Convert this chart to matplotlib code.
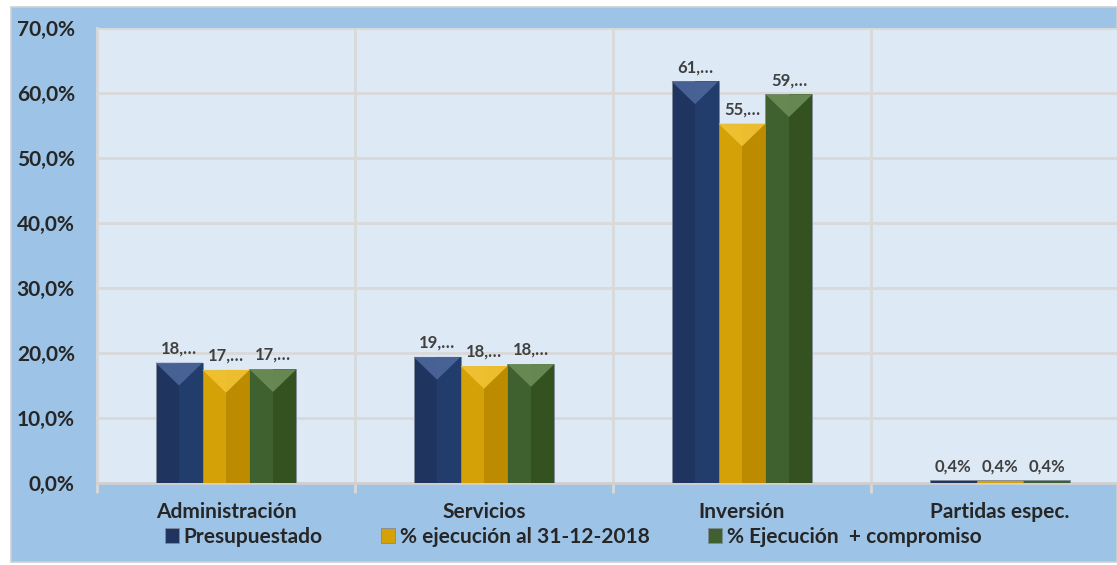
import numpy as np
import matplotlib.pyplot as plt
from matplotlib.patches import Rectangle, Polygon

categories = ['Administración', 'Servicios', 'Inversión', 'Partidas espec.']
series_names = ['Presupuestado', '% ejecución al 31-12-2018', '% Ejecución  + compromiso']
presupuestado = [18.5, 19.4, 61.8, 0.4]
ejecucion = [17.4, 18.0, 55.3, 0.4]
ejec_compromiso = [17.5, 18.3, 59.8, 0.4]
labels_pres = ['18,…', '19,…', '61,…', '0,4%']
labels_ejec = ['17,…', '18,…', '55,…', '0,4%']
labels_comp = ['17,…', '18,…', '59,…', '0,4%']
yticks = [0, 10, 20, 30, 40, 50, 60, 70]

# base colour, darker right half, lighter top bevel
styles = [('#1f3560', '#223d6c', '#4d679b'),
          ('#d4a106', '#bd8b00', '#f2c435'),
          ('#3f6130', '#34521f', '#6c8c58')]

plt.rcParams['font.family'] = ['Lato', 'DejaVu Sans']
plt.rcParams['font.weight'] = 'bold'

fig = plt.figure(figsize=(11.17, 5.65), dpi=100, facecolor='white')
W, H = 1117, 565
fig.patches.append(Rectangle((11 / W, 3 / H), 1 - 11 / W, 1 - 10 / H,
                             transform=fig.transFigure, facecolor='#9dc3e6',
                             edgecolor='#d0d0d0', linewidth=1.2, zorder=-10))

ax = fig.add_axes([97 / W, 82 / H, 1032 / W, 455 / H])
ax.set_facecolor('#dde9f5')

x = np.arange(len(categories))
w = 0.182
all_vals = [presupuestado, ejecucion, ejec_compromiso]
all_labels = [labels_pres, labels_ejec, labels_comp]
bev = 3.5  # bevel height in data units

for i, (vals, labs, (c_left, c_right, c_top)) in enumerate(zip(all_vals, all_labels, styles)):
    bars = ax.bar(x + (i - 1) * w, vals, w, color=c_left, edgecolor='#7f8a99',
                  linewidth=0.6, zorder=3, label=series_names[i])
    for b, lab in zip(bars, labs):
        bx, bw, bh = b.get_x(), b.get_width(), b.get_height()
        if bh > 2 * bev:
            ax.add_patch(Rectangle((bx + bw / 2, 0), bw / 2, bh, facecolor=c_right,
                                   edgecolor='none', zorder=3.5))
            ax.add_patch(Polygon([(bx, bh), (bx + bw, bh), (bx + bw / 2, bh - bev)],
                                 closed=True, facecolor=c_top, edgecolor='none',
                                 alpha=0.9, zorder=3.6))
        ax.annotate(lab, (bx + bw / 2, bh), xytext=(0, 4.5), textcoords='offset points',
                    ha='center', va='bottom', fontsize=12, fontweight='bold',
                    color='#404040', zorder=5)

ax.set_xlim(-0.5, 3.5)
ax.set_ylim(0, 70)
ax.set_yticks(yticks)
ax.set_yticklabels([f'{v:.1f}%'.replace('.', ',') for v in yticks])
ax.set_xticks(x)
ax.set_xticklabels(categories)
ax.set_xticks(np.arange(-0.5, 4, 1), minor=True)

ax.tick_params(axis='y', length=0, pad=16, labelsize=15, labelcolor='#262626')
ax.tick_params(axis='x', which='major', length=0, pad=14, labelsize=15, labelcolor='#262626')
ax.tick_params(axis='x', which='minor', length=7, width=2, color='#d9d9d9')
ax.grid(axis='y', color='#d9d9d9', linewidth=2, zorder=1)
ax.grid(axis='x', which='minor', color='#d9d9d9', linewidth=2, zorder=1)
ax.set_axisbelow(True)

for s in ['top', 'right']:
    ax.spines[s].set_visible(False)
ax.spines['left'].set_color('#d9d9d9')
ax.spines['left'].set_linewidth(2)
ax.spines['bottom'].set_color('#d0d0d0')
ax.spines['bottom'].set_linewidth(2)

fig.legend(loc='center', bbox_to_anchor=(573 / W, 28 / H), ncol=3, frameon=False,
           fontsize=15, handlelength=0.7, handleheight=0.7, handletextpad=0.2,
           columnspacing=2.8, labelcolor='#262626', borderpad=0.1)

fig.savefig('out.png', dpi=100, facecolor=fig.get_facecolor())
